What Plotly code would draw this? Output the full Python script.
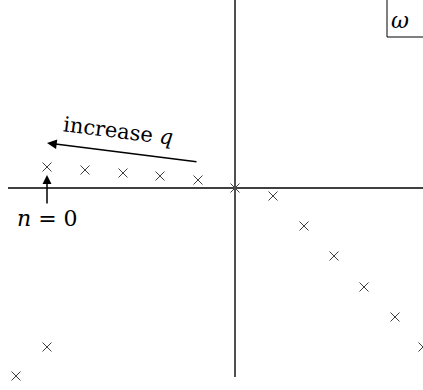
import plotly.graph_objects as go

# pole positions (plane units, origin at the axes crossing)
upper_x = [-188, -150, -112, -75, -37, 0]
upper_y = [21, 18, 15, 12, 8, 0]
right_x = [38, 69, 99, 129, 160, 188]
right_y = [-8, -38, -68, -99, -129, -159]
lower_x = [-188, -219]
lower_y = [-159, -188]

poles_x = upper_x + right_x + lower_x
poles_y = upper_y + right_y + lower_y

fig = go.Figure()

# axes of the complex plane
fig.add_shape(type="line", x0=-227, x1=200, y0=0, y1=0,
              line=dict(color="black", width=1.5))
fig.add_shape(type="line", x0=0, x1=0, y0=-189, y1=200,
              line=dict(color="#505050", width=2))

fig.add_trace(go.Scatter(
    x=poles_x, y=poles_y, mode="markers",
    marker=dict(symbol="x-thin", size=9, line=dict(width=1, color="#404040")),
    cliponaxis=False, showlegend=False,
))

serif = "DejaVu Serif"

# "increase q" arrow
fig.add_annotation(x=-188, y=45, ax=-37, ay=26, xref="x", yref="y",
                   axref="x", ayref="y", text="", showarrow=True,
                   arrowhead=2, arrowsize=1.3, arrowwidth=1.5, arrowcolor="black")
fig.add_annotation(x=-117, y=57, text="increase <i>q</i>", showarrow=False,
                   textangle=7, font=dict(family=serif, size=21, color="black"))

# n = 0 arrow
fig.add_annotation(x=-188, y=13, ax=-188, ay=-17, xref="x", yref="y",
                   axref="x", ayref="y", text="", showarrow=True,
                   arrowhead=2, arrowsize=1.2, arrowwidth=1.5, arrowcolor="black")
fig.add_annotation(x=-188, y=-30, text="<i>n</i> = 0", showarrow=False,
                   font=dict(family=serif, size=22, color="black"))

# omega label box
fig.add_shape(type="rect", x0=152, x1=200, y0=151, y1=200,
              line=dict(color="black", width=1))
fig.add_annotation(x=165, y=168, text="<i>ω</i>", showarrow=False,
                   font=dict(family=serif, size=22, color="black"))

fig.update_xaxes(range=[-235, 188], visible=False)
fig.update_yaxes(range=[-202, 188], visible=False)
fig.update_layout(width=423, height=390, margin=dict(l=0, r=0, t=0, b=0),
                  plot_bgcolor="white", paper_bgcolor="white")

fig.write_html("out.html", config={"displayModeBar": False},
               post_script="document.body.style.margin='0';")
